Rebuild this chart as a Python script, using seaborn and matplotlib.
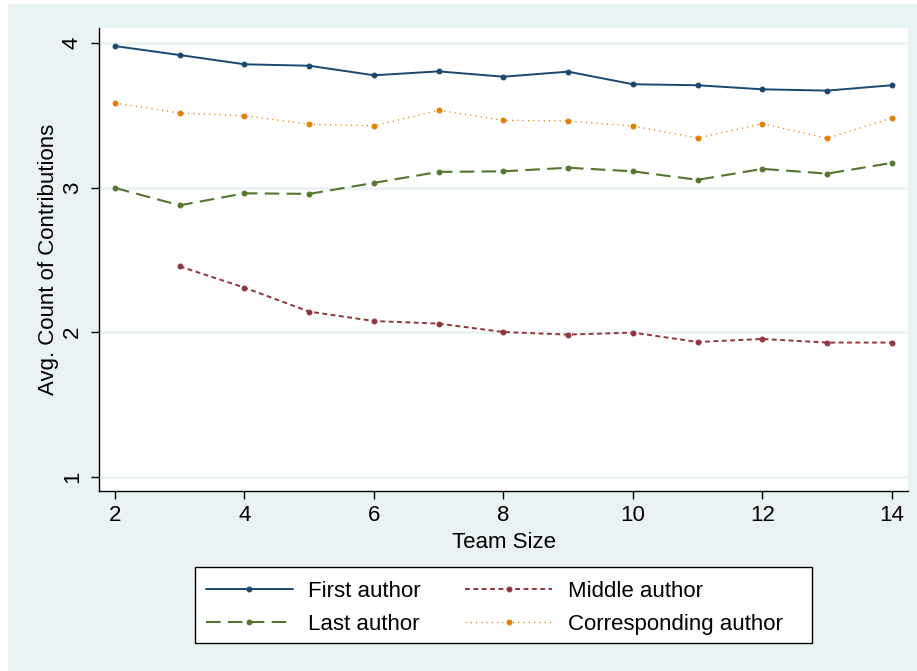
import numpy as np
import pandas as pd
import matplotlib
matplotlib.use('Agg')
import matplotlib.pyplot as plt
from matplotlib.patches import Rectangle
import seaborn as sns

# values
team_size = [2, 3, 4, 5, 6, 7, 8, 9, 10, 11, 12, 13, 14]
first_author = [3.979, 3.917, 3.853, 3.843, 3.777, 3.804, 3.767, 3.802, 3.715, 3.708, 3.680, 3.671, 3.708]
middle_author = [np.nan, 2.456, 2.309, 2.143, 2.078, 2.060, 2.002, 1.984, 1.998, 1.933, 1.954, 1.929, 1.929]
last_author = [2.998, 2.878, 2.961, 2.957, 3.033, 3.109, 3.113, 3.138, 3.113, 3.054, 3.130, 3.097, 3.171]
corresponding_author = [3.585, 3.516, 3.498, 3.438, 3.428, 3.535, 3.466, 3.461, 3.426, 3.343, 3.442, 3.341, 3.482]

y_ticks = [1, 2, 3, 4]
x_ticks = [2, 4, 6, 8, 10, 12, 14]

sns.set_style('ticks')
plt.rcParams['font.family'] = ['Liberation Sans', 'DejaVu Sans']
plt.rcParams['text.color'] = 'black'
plt.rcParams['axes.labelcolor'] = 'black'

bg = '#EAF2F3'
W, H = 917, 671
fig = plt.figure(figsize=(W / 100, H / 100), dpi=100)
fig.patch.set_facecolor('white')
fig.patches.append(Rectangle((8 / W, 0), 1, 1 - 4 / H, transform=fig.transFigure,
                             facecolor=bg, edgecolor='none', zorder=-10))
# legend box (Stata draws it wider than its contents)
fig.patches.append(Rectangle((195 / W, 1 - 643 / H), 617 / W, 76 / H, transform=fig.transFigure,
                             facecolor='white', edgecolor='black', linewidth=1.0, zorder=-5))

ax = fig.add_axes([0.1085, 0.2683, 0.8815, 0.69])
ax.set_facecolor('white')

series = [
    ('First author', first_author, '#1a476f', '-', 1.4),
    ('Middle author', middle_author, '#90353b', (0, (2.5, 1.8)), 1.4),
    ('Last author', last_author, '#55752f', (0, (7, 3.5)), 1.5),
    ('Corresponding author', corresponding_author, '#e37e00', (0, (0.8, 3)), 1.0),
]

for name, vals, col, ls, lw in series:
    df = pd.DataFrame({'x': team_size, 'y': vals}).dropna()
    sns.lineplot(data=df, x='x', y='y', ax=ax, color=col, linestyle=ls, linewidth=lw,
                 marker='o', markersize=3.5, markeredgecolor=col, markerfacecolor=col,
                 label=name, legend=False)

ax.set_xlim(1.761, 14.247)
ax.set_ylim(0.903, 4.104)
ax.set_xticks(x_ticks)
ax.set_yticks(y_ticks)
ax.set_yticklabels([str(v) for v in y_ticks], rotation=90, va='center')
for v in y_ticks:
    ax.axhline(v, color=bg, linewidth=2, zorder=0)

sns.despine(ax=ax)
for side in ['left', 'bottom']:
    ax.spines[side].set_linewidth(1.0)
    ax.spines[side].set_color('black')
ax.tick_params(axis='both', direction='out', length=6, width=1, labelsize=16,
               color='black', labelcolor='black')
ax.tick_params(axis='x', pad=4)
ax.tick_params(axis='y', pad=6)

ax.set_xlabel('Team Size', fontsize=16, labelpad=4.5)
ax.set_ylabel('Avg. Count of Contributions', fontsize=16, labelpad=2)

handles, labels = ax.get_legend_handles_labels()
order = [0, 2, 1, 3]
leg = fig.legend([handles[i] for i in order], [labels[i] for i in order],
                 loc='upper left', bbox_to_anchor=(206 / W, 1 - 581 / H), ncol=2,
                 fontsize=16, frameon=False, borderpad=0, borderaxespad=0,
                 handlelength=3.9, handletextpad=0.7, columnspacing=2.0,
                 labelspacing=0.55)

fig.savefig('out.png', dpi=100, facecolor=fig.get_facecolor())
